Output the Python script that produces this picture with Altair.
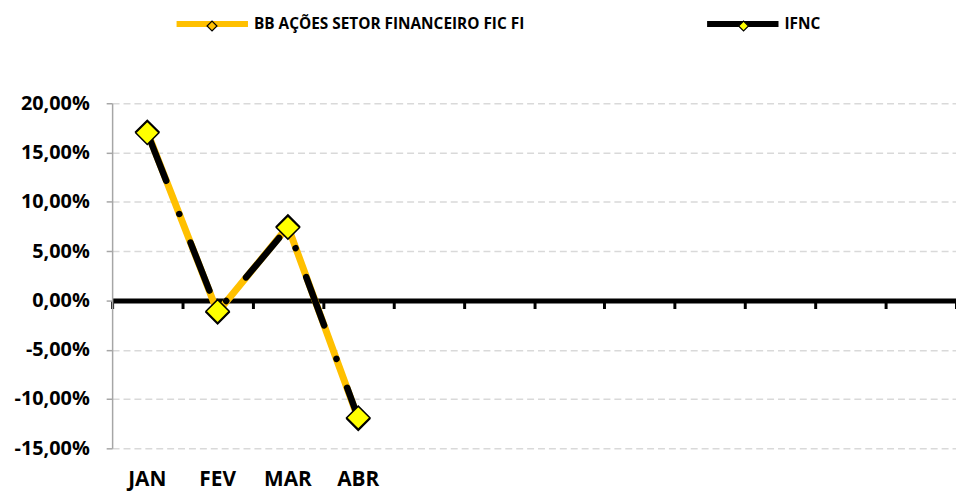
import altair as alt
import pandas as pd

# ---- data ----
MONTHS = ["JAN", "FEV", "MAR", "ABR", "MAI", "JUN", "JUL", "AGO", "SET", "OUT", "NOV", "DEZ"]
SHOWN = ["JAN", "FEV", "MAR", "ABR"]
SERIES = ["BB AÇÕES SETOR FINANCEIRO FIC FI", "IFNC"]
BB = [0.171, -0.012, 0.075, -0.120]
IFNC = [0.170, -0.011, 0.074, -0.119]
Y_TICKS = [-0.15, -0.10, -0.05, 0.0, 0.05, 0.10, 0.15, 0.20]

rows = []
for s, vals in zip(SERIES, [BB, IFNC]):
    for m, v in zip(SHOWN, vals):
        rows.append({"mes": m, "serie": s, "valor": v, "marcador": s})
df = pd.DataFrame(rows)

FONT = "Open Sans"
shown_js = "[" + ",".join("'%s'" % m for m in SHOWN) + "]"

x_scale = alt.Scale(type="band", domain=MONTHS, paddingInner=0, paddingOuter=0)
y_scale = alt.Scale(domain=[-0.15, 0.20], nice=False, zero=False)

label_axis = alt.Axis(
    title=None, orient="bottom", domain=False, ticks=False, grid=False,
    labelFont=FONT, labelFontSize=21, labelFontWeight="bold", labelColor="black",
    labelPadding=20, labelAngle=0,
    labelExpr="indexof(%s, datum.value) >= 0 ? datum.value : ''" % shown_js,
)
zero_axis = alt.Axis(
    title=None, orient="bottom", offset=-149, labels=False, grid=False,
    domain=True, domainColor="black", domainWidth=5,
    ticks=True, tickColor="black", tickWidth=3, tickSize=8, tickBand="extent",
)
y_axis = alt.Axis(
    title=None, values=Y_TICKS,
    labelExpr="replace(replace(format(datum.value, '.2%'), '.', ','), '\u2212', '-')",
    labelFont=FONT, labelFontSize=20, labelFontWeight="bold", labelColor="black",
    labelPadding=17, domainColor="#A6A6A6", domainWidth=1.5,
    tickColor="#A6A6A6", tickWidth=1.5, tickSize=6,
    grid=True, gridColor="#D9D9D9", gridDash=[7, 4], gridWidth=1.5,
)

line_legend = alt.Legend(
    title=None, orient="none", legendX=62, legendY=-119, direction="horizontal",
    columns=2, symbolType="stroke", symbolSize=5184, symbolStrokeWidth=6,
    labelFont=FONT, labelFontSize=15.5, labelFontWeight="bold", labelColor="black",
    labelLimit=500, labelOffset=3, columnPadding=172, padding=0,
)
marker_legend = alt.Legend(
    title=None, orient="none", legendX=93, legendY=-86, direction="horizontal",
    columns=2, symbolType="diamond", symbolSize=100, symbolStrokeColor="black",
    symbolStrokeWidth=1.2, labelExpr="''", labelFontSize=15.5,
    labelOffset=0, columnPadding=520, padding=0,
)

color_enc = alt.Color("serie:N", scale=alt.Scale(domain=SERIES, range=["#FFC000", "#000000"]),
                      legend=line_legend)
y_enc = alt.Y("valor:Q", scale=y_scale, axis=y_axis)

base = alt.Chart(df)

bb_line = base.transform_filter(alt.datum.serie == SERIES[0]).mark_line(
    strokeWidth=7, strokeJoin="round", strokeCap="round"
).encode(x=alt.X("mes:N", scale=x_scale, axis=label_axis), y=y_enc, color=color_enc)

ifnc_line = base.transform_filter(alt.datum.serie == SERIES[1]).mark_line(
    strokeWidth=6.5, strokeJoin="round", strokeCap="round", strokeDash=[52, 36, 0.01, 31]
).encode(x=alt.X("mes:N", scale=x_scale, axis=zero_axis), y=y_enc, color=color_enc)

points = base.mark_point(
    shape="diamond", size=550, filled=True, stroke="black", strokeWidth=1.5, opacity=1
).encode(
    x=alt.X("mes:N", scale=x_scale, axis=None), y=y_enc,
    fill=alt.Fill("marcador:N", scale=alt.Scale(range=["#FFC000", "#FFFF00"]), legend=marker_legend),
)

chart = alt.layer(bb_line, ifnc_line, points).resolve_axis(x="independent").properties(
    width=851, height=348,
    autosize=alt.AutoSizeParams(type="none"),
    padding={"left": 105, "top": 94, "right": 0, "bottom": 44},
    background="white",
).configure_view(stroke="transparent")

chart.save("out.html", embed_options={"renderer": "svg", "actions": False})
